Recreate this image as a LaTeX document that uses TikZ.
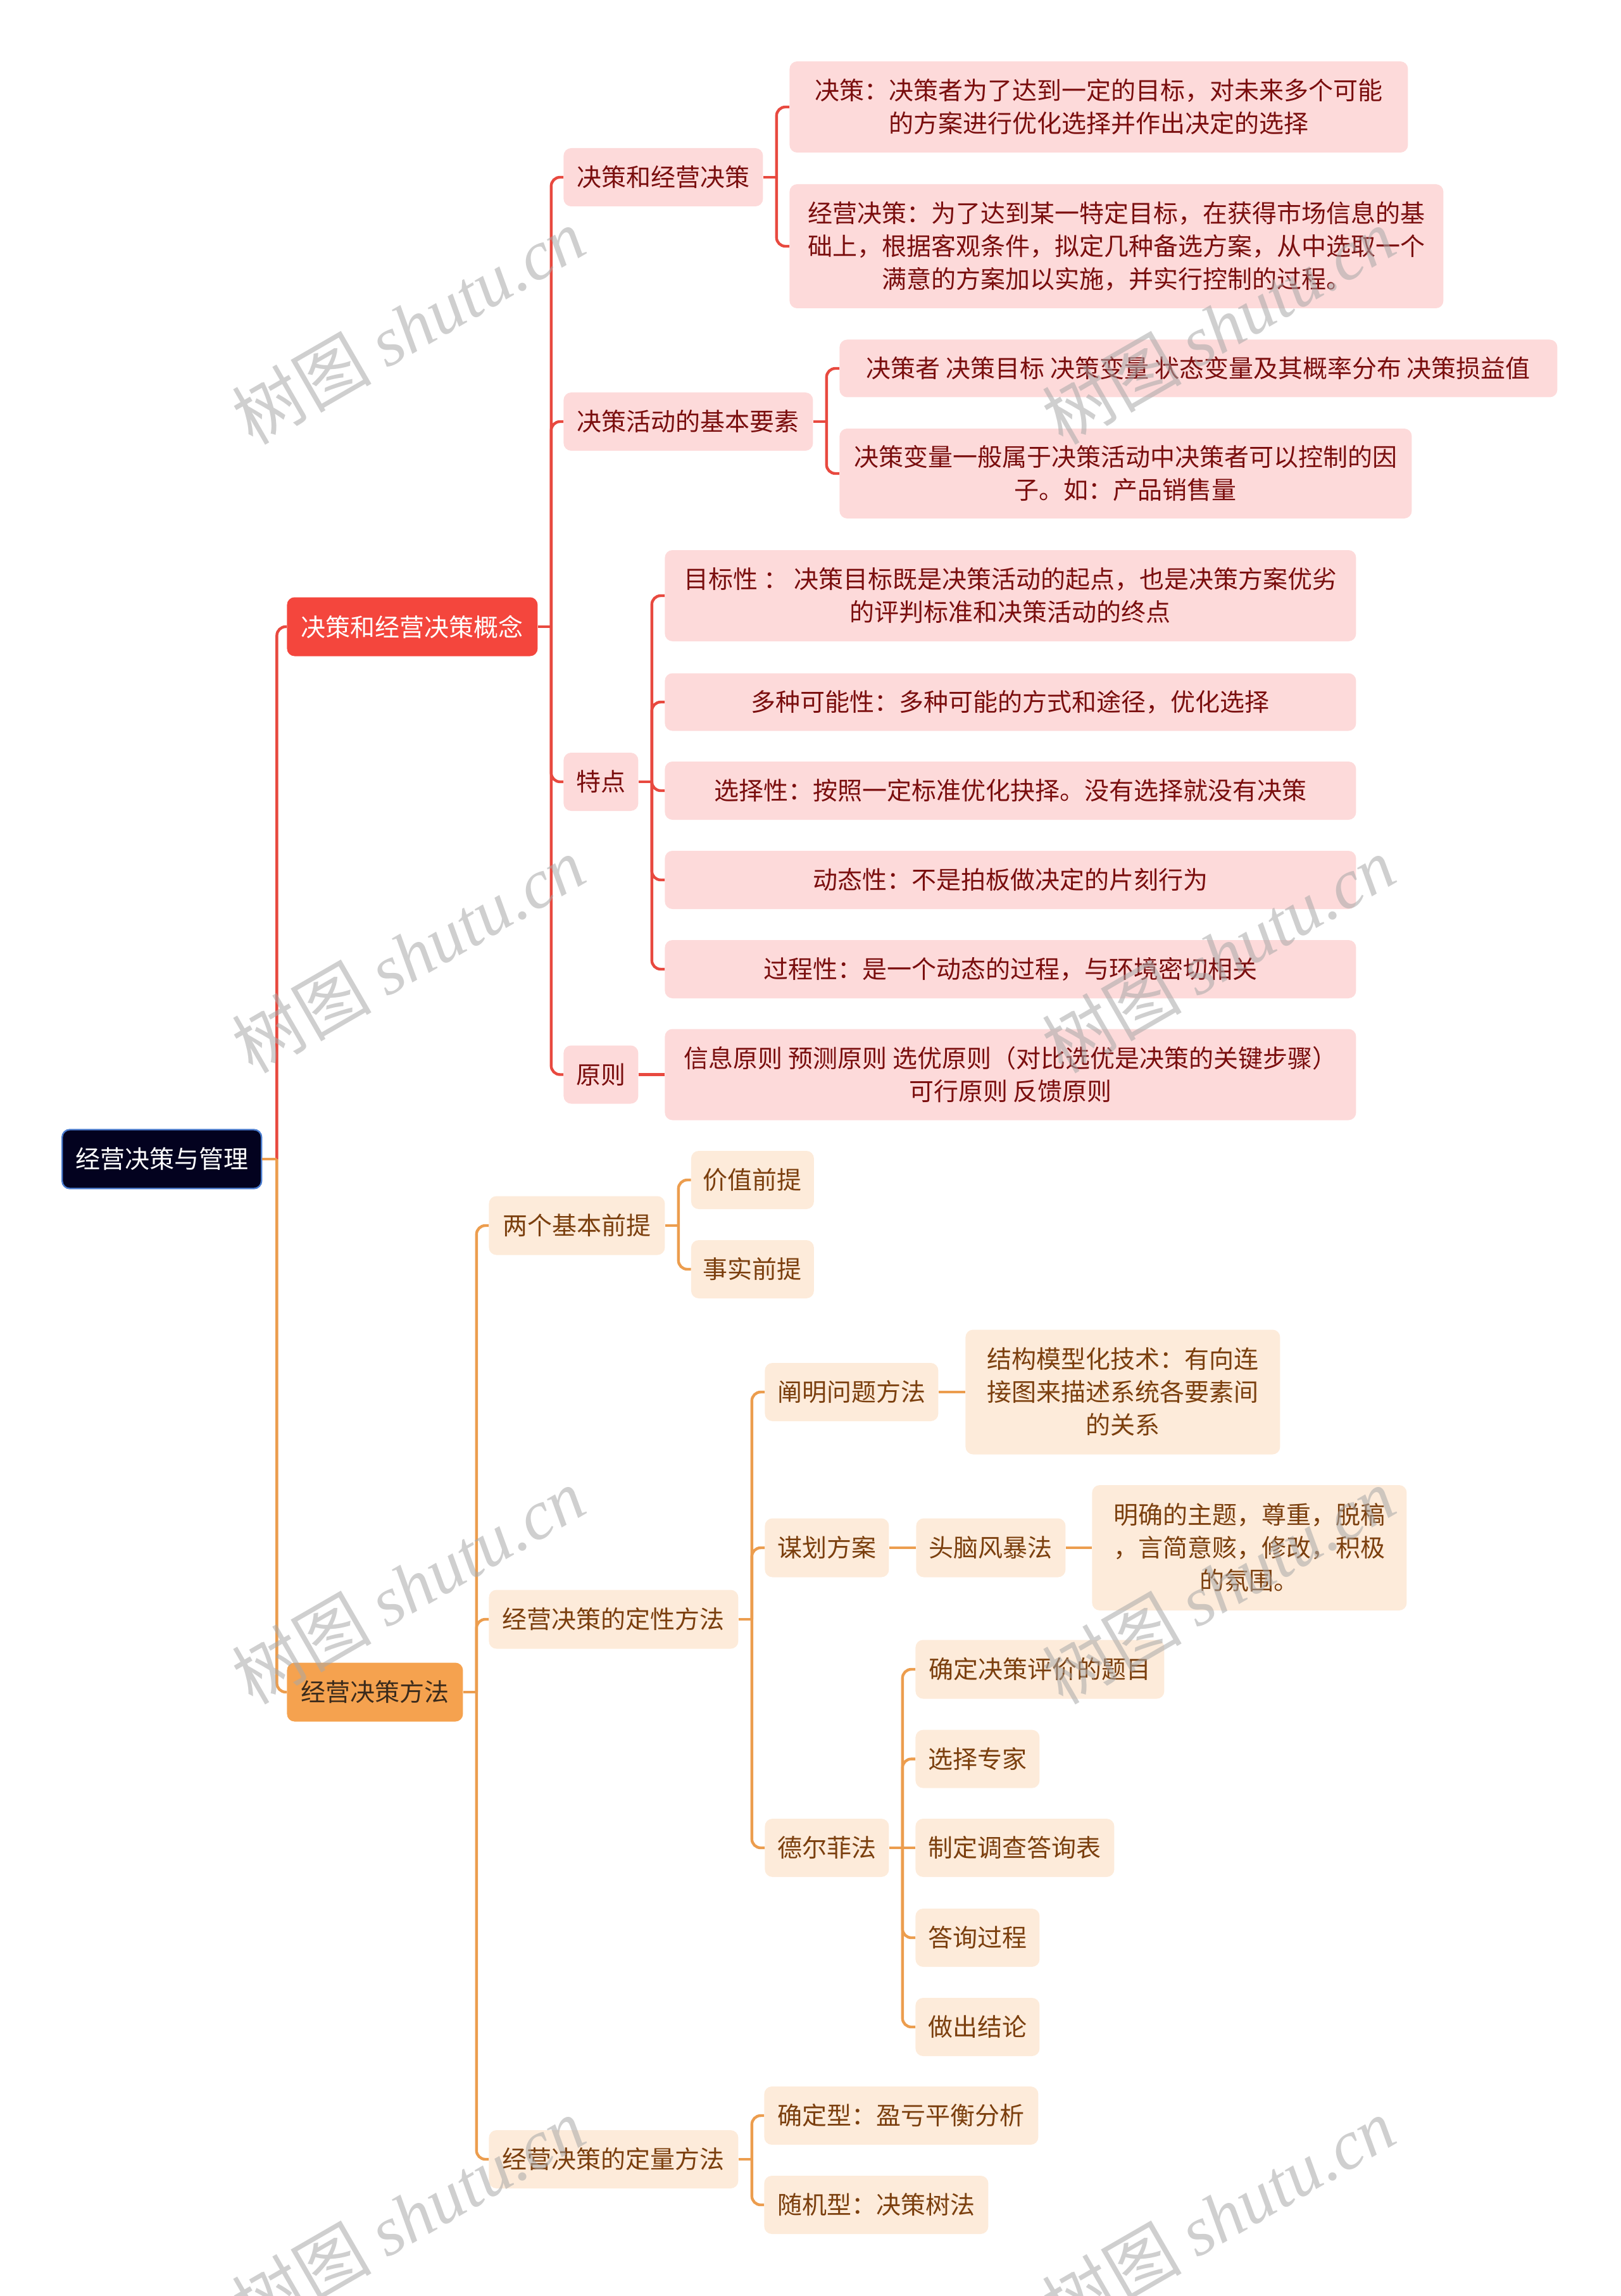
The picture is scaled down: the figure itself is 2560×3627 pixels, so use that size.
\documentclass[tikz,border=0pt]{standalone}
\usepackage{fontspec}
\setmainfont{Noto Sans CJK SC}
\newfontfamily\wmlatin{Liberation Serif}
\definecolor{rootfill}{HTML}{03021F}
\definecolor{rootborder}{HTML}{4A7CCF}
\definecolor{redmain}{HTML}{F4463D}
\definecolor{redline}{HTML}{E8493F}
\definecolor{pinkfill}{HTML}{FDDADA}
\definecolor{redtext}{HTML}{7A0E0E}
\definecolor{orgmain}{HTML}{F5A24F}
\definecolor{orgline}{HTML}{EC9D4E}
\definecolor{orgdark}{HTML}{3B2B1C}
\definecolor{peach}{HTML}{FDEBDA}
\definecolor{browntext}{HTML}{7B3F0E}
\definecolor{wmgray}{HTML}{A8A8A8}
\begin{document}
\begin{tikzpicture}[x=0.5pt,y=-0.5pt,
  box/.style={rounded corners=6pt, inner sep=0pt, align=center, anchor=west, font=\fontsize{19.5pt}{26pt}\selectfont},
  rootbox/.style={box, fill=rootfill, draw=rootborder, line width=1.2pt, text=white},
  redone/.style={box, fill=redmain, text=white},
  orgone/.style={box, fill=orgmain, text=orgdark},
  pk/.style={box, fill=pinkfill, text=redtext},
  pc/.style={box, fill=peach, text=browntext},
  rl/.style={draw=redline, line width=2.2pt, rounded corners=7pt},
  ol/.style={draw=orgline, line width=2.2pt, rounded corners=7pt},
  wm/.style={text=wmgray, opacity=0.55, rotate=30, font=\fontsize{55pt}{60pt}\selectfont}]
\useasboundingbox (0,0) rectangle (2560,3627);

% root and level 1
\node[rootbox, minimum width=157.5pt, minimum height=46.5pt] (R) at (97,1831) {经营决策与管理};
\node[redone, minimum width=198pt, minimum height=46.5pt] (A) at (453,990) {决策和经营决策概念};
\node[orgone, minimum width=139pt, minimum height=46.5pt] (B) at (453,2673) {经营决策方法};

% red branch
\node[pk, minimum width=157.5pt, minimum height=46pt] (A1) at (890,280) {决策和经营决策};
\node[pk, minimum width=197pt, minimum height=46pt] (A2) at (890,666) {决策活动的基本要素};
\node[pk, minimum width=59pt, minimum height=46pt] (A3) at (890,1235) {特点};
\node[pk, minimum width=59pt, minimum height=46pt] (A4) at (890,1697.5) {原则};

\node[pk, minimum width=488.5pt, minimum height=72pt] (A1a) at (1247,169) {决策：决策者为了达到一定的目标，对未来多个可能\\的方案进行优化选择并作出决定的选择};
\node[pk, minimum width=516.5pt, minimum height=98pt] (A1b) at (1247,389) {经营决策：为了达到某一特定目标，在获得市场信息的基\\础上，根据客观条件，拟定几种备选方案，从中选取一个\\满意的方案加以实施，并实行控制的过程。};
\node[pk, minimum width=567pt, minimum height=45.5pt] (A2a) at (1326,582) {决策者 决策目标 决策变量 状态变量及其概率分布 决策损益值};
\node[pk, minimum width=452pt, minimum height=71pt] (A2b) at (1326,748) {决策变量一般属于决策活动中决策者可以控制的因\\子。如：产品销售量};
\node[pk, minimum width=546pt, minimum height=72pt] (A3a) at (1050,941) {目标性 ： 决策目标既是决策活动的起点，也是决策方案优劣\\的评判标准和决策活动的终点};
\node[pk, minimum width=546pt, minimum height=45.5pt] (A3b) at (1050,1109) {多种可能性：多种可能的方式和途径，优化选择};
\node[pk, minimum width=546pt, minimum height=46pt] (A3c) at (1050,1249) {选择性：按照一定标准优化抉择。没有选择就没有决策};
\node[pk, minimum width=546pt, minimum height=46pt] (A3d) at (1050,1390) {动态性：不是拍板做决定的片刻行为};
\node[pk, minimum width=546pt, minimum height=46pt] (A3e) at (1050,1531) {过程性：是一个动态的过程，与环境密切相关};
\node[pk, minimum width=546pt, minimum height=72pt] (A4a) at (1050,1697.5) {信息原则 预测原则 选优原则（对比选优是决策的关键步骤）\\可行原则 反馈原则};

% orange branch
\node[pc, minimum width=139pt, minimum height=46.5pt] (B1) at (772,1936) {两个基本前提};
\node[pc, minimum width=97pt, minimum height=46pt] (B1a) at (1091.5,1864) {价值前提};
\node[pc, minimum width=97pt, minimum height=46pt] (B1b) at (1091.5,2005) {事实前提};
\node[pc, minimum width=197pt, minimum height=46.5pt] (B2) at (772,2558) {经营决策的定性方法};
\node[pc, minimum width=137pt, minimum height=46pt] (B2a) at (1208,2199) {阐明问题方法};
\node[pc, minimum width=248.5pt, minimum height=98.5pt] (B2a1) at (1525,2199) {结构模型化技术：有向连\\接图来描述系统各要素间\\的关系};
\node[pc, minimum width=98pt, minimum height=46.5pt] (B2b) at (1208,2445) {谋划方案};
\node[pc, minimum width=118pt, minimum height=46.5pt] (B2b1) at (1447,2445) {头脑风暴法};
\node[pc, minimum width=248.5pt, minimum height=99pt] (B2b2) at (1725,2445) {明确的主题，尊重，脱稿\\，言简意赅，修改，积极\\的氛围。};
\node[pc, minimum width=98pt, minimum height=46pt] (B2c) at (1208,2919) {德尔菲法};
\node[pc, minimum width=196.5pt, minimum height=46.5pt] (C1) at (1446,2637) {确定决策评价的题目};
\node[pc, minimum width=98pt, minimum height=46pt] (C2) at (1446,2778.6) {选择专家};
\node[pc, minimum width=157pt, minimum height=46pt] (C3) at (1446,2919) {制定调查答询表};
\node[pc, minimum width=98pt, minimum height=46pt] (C4) at (1446,3061) {答询过程};
\node[pc, minimum width=98pt, minimum height=46pt] (C5) at (1446,3202) {做出结论};
\node[pc, minimum width=197pt, minimum height=46pt] (B3) at (772,3411) {经营决策的定量方法};
\node[pc, minimum width=216.5pt, minimum height=46pt] (B3a) at (1207,3342) {确定型：盈亏平衡分析};
\node[pc, minimum width=177pt, minimum height=46pt] (B3b) at (1207,3483) {随机型：决策树法};

% connectors - red
\draw[rl] (R.east) ++(23,0) |- (A.west);
\draw[rl] (A.east) -- ++(21,0);
\foreach \c in {A1,A2,A3,A4} \draw[rl] (A.east) ++(21,0) |- (\c.west);
\draw[rl] (A1.east) -- ++(21,0);
\foreach \c in {A1a,A1b} \draw[rl] (A1.east) ++(21,0) |- (\c.west);
\draw[rl] (A2.east) -- ++(21,0);
\foreach \c in {A2a,A2b} \draw[rl] (A2.east) ++(21,0) |- (\c.west);
\draw[rl] (A3.east) -- ++(21,0);
\foreach \c in {A3a,A3b,A3c,A3d,A3e} \draw[rl] (A3.east) ++(21,0) |- (\c.west);
\draw[rl] (A4.east) -- (A4a.west);

% connectors - orange
\draw[ol] (R.east) ++(23,0) |- (B.west);
\draw[ol] (R.east) -- ++(23,0);
\draw[ol] (B.east) -- ++(21,0);
\foreach \c in {B1,B2,B3} \draw[ol] (B.east) ++(21,0) |- (\c.west);
\draw[ol] (B1.east) -- ++(21,0);
\foreach \c in {B1a,B1b} \draw[ol] (B1.east) ++(21,0) |- (\c.west);
\draw[ol] (B2.east) -- ++(21,0);
\foreach \c in {B2a,B2b,B2c} \draw[ol] (B2.east) ++(21,0) |- (\c.west);
\draw[ol] (B2a.east) -- (B2a1.west);
\draw[ol] (B2b.east) -- (B2b1.west);
\draw[ol] (B2b1.east) -- (B2b2.west);
\draw[ol] (B2c.east) -- (C3.west);
\foreach \c in {C1,C2,C4,C5} \draw[ol] (B2c.east) ++(21,0) |- (\c.west);
\draw[ol] (B3.east) -- ++(21,0);
\foreach \c in {B3a,B3b} \draw[ol] (B3.east) ++(21,0) |- (\c.west);

% watermarks
\node[wm] (w1) at (645,515) {树图 {\wmlatin\itshape shutu.cn}};
\node[wm] (w2) at (1925,515) {树图 {\wmlatin\itshape shutu.cn}};
\node[wm] (w3) at (645,1508) {树图 {\wmlatin\itshape shutu.cn}};
\node[wm] (w4) at (1925,1508) {树图 {\wmlatin\itshape shutu.cn}};
\node[wm] (w5) at (645,2505) {树图 {\wmlatin\itshape shutu.cn}};
\node[wm] (w6) at (1925,2505) {树图 {\wmlatin\itshape shutu.cn}};
\node[wm] (w7) at (645,3500) {树图 {\wmlatin\itshape shutu.cn}};
\node[wm] (w8) at (1925,3500) {树图 {\wmlatin\itshape shutu.cn}};
\end{tikzpicture}
\end{document}
